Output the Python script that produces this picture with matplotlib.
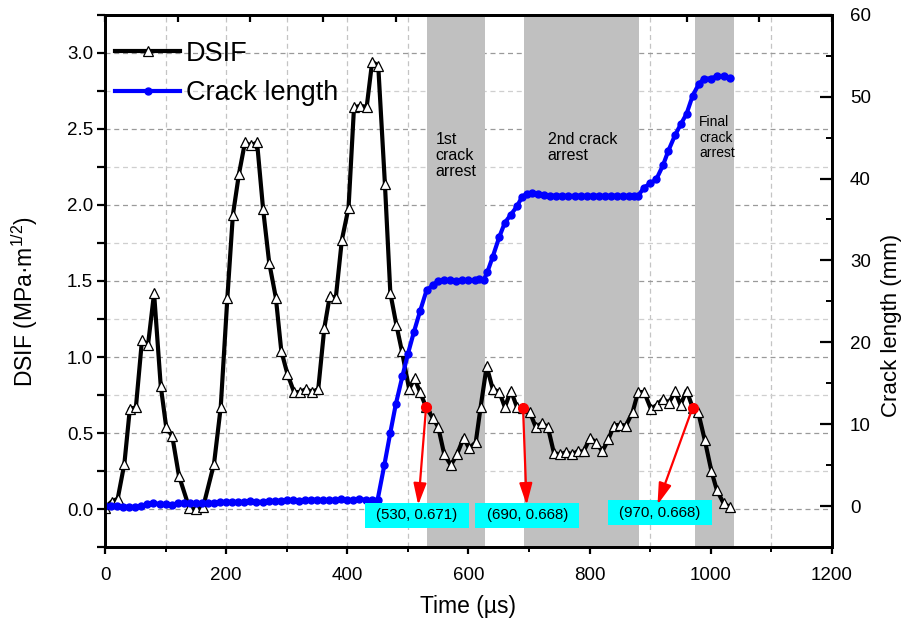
import numpy as np
import matplotlib
matplotlib.use("Agg")
import matplotlib.pyplot as plt
from matplotlib.patches import Rectangle
from matplotlib.ticker import MultipleLocator, FormatStrFormatter, NullFormatter

plt.rcParams['font.family'] = ['Liberation Sans', 'DejaVu Sans']
plt.rcParams['mathtext.fontset'] = 'custom'
plt.rcParams['mathtext.rm'] = 'Liberation Sans'
plt.rcParams['mathtext.it'] = 'Liberation Sans:italic'

# === DSIF (left axis) ===
t_dsif = [0, 11, 21, 32, 41, 51, 61, 71, 81, 92, 101, 111, 122, 139, 151, 162,
          180, 191, 202, 211, 221, 231, 241, 251, 261, 271, 282, 291, 301, 312,
          322, 332, 342, 352, 362, 371, 381, 391, 402, 411, 421, 432, 441, 451,
          462, 471, 481, 490, 502, 511, 520, 530, 541, 550, 560, 571, 581, 592,
          601, 612, 620, 630, 640, 651, 660, 670, 680, 690, 701, 711, 721, 731,
          741, 751, 761, 771, 780, 790, 801, 811, 821, 831, 840, 850, 860, 871,
          880, 890, 901, 911, 921, 931, 941, 950, 960, 970, 979, 990, 1001, 1010,
          1021, 1031]
dsif = [0.01, 0.05, 0.07, 0.30, 0.66, 0.67, 1.11, 1.08, 1.42, 0.81, 0.54, 0.48,
        0.22, 0.01, 0.00, 0.015, 0.30, 0.67, 1.39, 1.93, 2.20, 2.41, 2.39, 2.41,
        1.97, 1.62, 1.39, 1.04, 0.89, 0.77, 0.77, 0.79, 0.77, 0.79, 1.19, 1.40,
        1.39, 1.77, 1.98, 2.64, 2.65, 2.645, 2.94, 2.915, 2.14, 1.42, 1.21, 1.04,
        0.79, 0.86, 0.77, 0.671, 0.60, 0.54, 0.36, 0.29, 0.36, 0.47, 0.40, 0.44,
        0.67, 0.94, 0.79, 0.77, 0.67, 0.78, 0.67, 0.668, 0.64, 0.54, 0.565, 0.54,
        0.37, 0.36, 0.375, 0.36, 0.38, 0.38, 0.47, 0.435, 0.38, 0.46, 0.55, 0.555,
        0.55, 0.64, 0.77, 0.77, 0.66, 0.685, 0.725, 0.70, 0.775, 0.685, 0.78,
        0.668, 0.64, 0.455, 0.25, 0.125, 0.04, 0.015]

# === Crack length (right axis) ===
t_crack = [0, 10, 20, 30, 40, 50, 60, 70, 80, 90, 100, 110, 120, 130, 140, 150,
           160, 170, 180, 190, 200, 210, 220, 230, 240, 250, 260, 270, 280, 290,
           300, 310, 320, 330, 340, 350, 360, 370, 380, 390, 400, 410, 420, 430,
           440, 450, 461, 471, 480, 491, 500, 510, 520, 531, 542, 550, 560, 570,
           580, 590, 600, 610, 618, 625, 631, 640, 651, 660, 670, 680, 688, 696,
           705, 715, 725, 735, 745, 755, 765, 775, 785, 795, 805, 815, 825, 835,
           845, 855, 865, 873, 880, 890, 900, 910, 921, 930, 941, 951, 960, 970,
           980, 989, 1000, 1011, 1021, 1031]
crack = [0.0, 0.05, 0.0, -0.05, -0.05, -0.1, 0.0, 0.3, 0.35, 0.3, 0.25, 0.2,
         0.35, 0.45, 0.4, 0.35, 0.4, 0.35, 0.45, 0.5, 0.55, 0.55, 0.5, 0.55, 0.6,
         0.55, 0.55, 0.6, 0.65, 0.7, 0.75, 0.75, 0.7, 0.75, 0.8, 0.8, 0.75, 0.75,
         0.8, 0.85, 0.8, 0.75, 0.9, 0.8, 0.75, 0.8, 5.0, 9.0, 12.45, 15.9, 18.6,
         21.3, 23.8, 26.4, 27.0, 27.5, 27.6, 27.6, 27.5, 27.6, 27.6, 27.6, 27.7,
         27.6, 28.55, 30.45, 32.9, 34.6, 35.6, 36.6, 37.7, 38.1, 38.2, 38.1, 38.0,
         37.9, 37.9, 37.9, 37.85, 37.9, 37.9, 37.85, 37.9, 37.9, 37.85, 37.9, 37.9,
         37.85, 37.9, 37.9, 37.9, 38.9, 39.4, 39.9, 41.6, 43.4, 45.3, 46.7, 47.9,
         50.1, 51.5, 52.2, 52.2, 52.5, 52.5, 52.3]

# crack arrest periods (µs)
arrest_start = [532, 692, 974]
arrest_end = [628, 882, 1038]
arrest_labels = ['1st\ncrack\narrest', '2nd crack\narrest', 'Final\ncrack\narrest']

# annotated points
ann_t = [530, 690, 970]
ann_k = [0.671, 0.668, 0.668]

fig = plt.figure(figsize=(9.06, 6.29), dpi=100)
ax = fig.add_axes([0.1159, 0.1299, 0.8024, 0.8469])
ax2 = ax.twinx()

for s, e in zip(arrest_start, arrest_end):
    ax.axvspan(s, e, color='#c0c0c0', lw=0, zorder=1)

ax.text(546, 2.48, arrest_labels[0], fontsize=11.5, va='top', ha='left', linespacing=1.1, zorder=3)
ax.text(731, 2.48, arrest_labels[1], fontsize=11.5, va='top', ha='left', linespacing=1.1, zorder=3)
ax.text(981, 2.59, arrest_labels[2], fontsize=10, va='top', ha='left', linespacing=1.15, zorder=3)

ax.set_axisbelow(True)
dash = (0, (4, 3))
ax.grid(which='major', axis='y', color='#9a9a9a', ls=dash, lw=0.9)
ax.grid(which='minor', axis='y', color='#cfcfcf', ls=dash, lw=0.9)
ax.grid(which='both', axis='x', color='#c4c4c4', ls=dash, lw=0.9)

l1, = ax.plot(t_dsif, dsif, color='black', lw=3, marker='^', ms=6.5,
              mfc='white', mec='black', mew=0.9, solid_joinstyle='round', zorder=4,
              label='DSIF')
ax.plot(ann_t, ann_k, 'o', color='red', ms=7, zorder=6)

l2, = ax2.plot(t_crack, crack, color='#0000ff', lw=3, marker='o', ms=5,
               solid_joinstyle='round', label='Crack length')

ax.set_xlim(0, 1200)
ax.set_ylim(-0.25, 3.25)
ax2.set_ylim(-5, 60)

ax.xaxis.set_major_locator(MultipleLocator(200))
ax.xaxis.set_minor_locator(MultipleLocator(100))
ax.yaxis.set_major_locator(MultipleLocator(0.5))
ax.yaxis.set_minor_locator(MultipleLocator(0.25))
ax.yaxis.set_major_formatter(FormatStrFormatter('%.1f'))
ax2.yaxis.set_major_locator(MultipleLocator(10))
ax2.yaxis.set_minor_locator(MultipleLocator(5))

ax.tick_params(axis='x', which='major', direction='out', length=5, width=1.6,
               labelsize=13.5, pad=9)
ax.tick_params(axis='x', which='minor', direction='out', length=3.5, width=1.4)
ax.tick_params(axis='y', which='both', direction='out', length=5.5, width=1.6,
               labelsize=13.5, pad=3)
ax2.tick_params(axis='y', which='major', direction='in', length=8.5, width=1.6,
                labelsize=13.5, pad=13)
ax2.tick_params(axis='y', which='minor', direction='in', length=4.3, width=1.4)

top = ax.secondary_xaxis('top')
top.set_xticks(np.linspace(0, 1200, 11))
top.xaxis.set_major_formatter(NullFormatter())
top.tick_params(direction='in', length=5, width=1.6)

for a in (ax, ax2, top):
    for sp in a.spines.values():
        sp.set_linewidth(2)

ax.set_xlabel('Time (µs)', fontsize=16.5, labelpad=8)
ax.set_ylabel('DSIF (MPa·m$^{\\mathrm{1/2}}$)', fontsize=16.5)
ax.yaxis.set_label_coords(-0.089, 0.462)
ax2.set_ylabel('Crack length (mm)', fontsize=16)
ax2.yaxis.set_label_coords(1.068, 0.417)

# annotation boxes with arrows
box_pos = [(515, -0.041), (697, -0.041), (916, -0.024)]
box_w, box_h = 171, 0.164
tip_pos = [(517, 0.028), (696, 0.028), (912, 0.030)]
for (tx, ty), (bx, by), (px, py) in zip(box_pos, tip_pos, zip(ann_t, ann_k)):
    ax2.add_patch(Rectangle((tx - box_w / 2, ty - box_h / 2), box_w, box_h,
                            transform=ax.transData, fc='#00ffff', ec='none',
                            zorder=6.5))
    ax2.text(tx, ty, '(%d, %.3f)' % (px, py), transform=ax.transData,
             fontsize=10.8, ha='center', va='center', zorder=7)
    ax2.annotate('', xy=(bx, by), xycoords=ax.transData,
                 xytext=(px, py), textcoords=ax.transData,
                 arrowprops=dict(arrowstyle='-|>,head_length=1.0,head_width=0.3',
                                 color='red', lw=1.6, mutation_scale=13,
                                 shrinkA=0, shrinkB=0), zorder=8)

ax2.legend([l1, l2], ['DSIF', 'Crack length'], loc='upper left',
           bbox_to_anchor=(0.014, 0.951), frameon=False, fontsize=19.5,
           handlelength=2.4, handletextpad=0.22, labelspacing=0.5,
           borderpad=0, borderaxespad=0, numpoints=1)

fig.savefig('out.png', dpi=100)
